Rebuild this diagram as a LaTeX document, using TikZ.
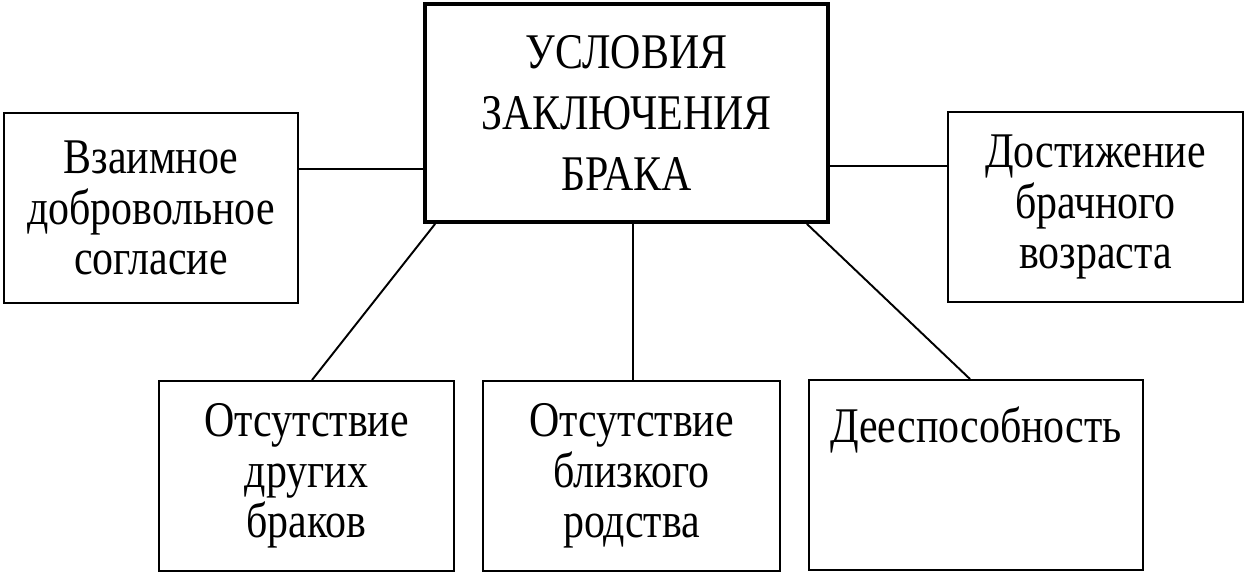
\documentclass[tikz,border=0pt]{standalone}
\usepackage{fontspec}
\setmainfont{Liberation Serif}[FakeStretch=0.84]
\begin{document}
\begin{tikzpicture}
    [
    x=0.02cm, y=-0.02cm,
    main/.style={rectangle,draw,line width=2.2pt,inner sep=0pt,minimum width=80.6mm,minimum height=43.6mm,align=center,font=\fontsize{28.4}{34.7}\selectfont},
    item/.style={rectangle,draw,line width=1.1pt,inner sep=0pt,minimum width=59mm,minimum height=38mm,align=center,font=\fontsize{28.4}{28.6}\selectfont},
    link/.style={line width=1.7pt}
    ]
    \useasboundingbox (0,0) rectangle (1244,574);
    \node (main) at (626.5,113) [main] {УСЛОВИЯ\\ЗАКЛЮЧЕНИЯ\\БРАКА};
    \node (consent) at (151,208) [item, minimum width=58.8mm] {Взаимное\\добровольное\\согласие};
    \node (age) at (1095.5,207) [item] {Достижение\\брачного\\возраста};
    \node (single) at (306.5,476) [item] {Отсутствие\\других\\браков};
    \node (kin) at (631.5,476) [item, minimum width=59.4mm] {Отсутствие\\близкого\\родства};
    \node (capacity) at (976,475) [item, minimum width=66.8mm] {Дееспособность\\\mbox{}\\\mbox{}};
    \coordinate (l) at ([yshift=0.78cm]consent.east);
    \coordinate (r) at ([yshift=0.82cm]age.west);
    \draw [link] (l) to (l -| main.west);
    \draw [link] (r) to (r -| main.east);
    \draw [line width=1.1pt] ([xshift=0.24cm]main.south west) to ([xshift=0.11cm]single.north);
    \draw [line width=1.1pt] ([xshift=0.03cm]kin.north) to ([xshift=0.03cm]kin.north |- main.south);
    \draw [line width=1.1pt] ([xshift=-0.46cm]main.south east) to ([xshift=-0.12cm]capacity.north);
  \end{tikzpicture}
\end{document}
